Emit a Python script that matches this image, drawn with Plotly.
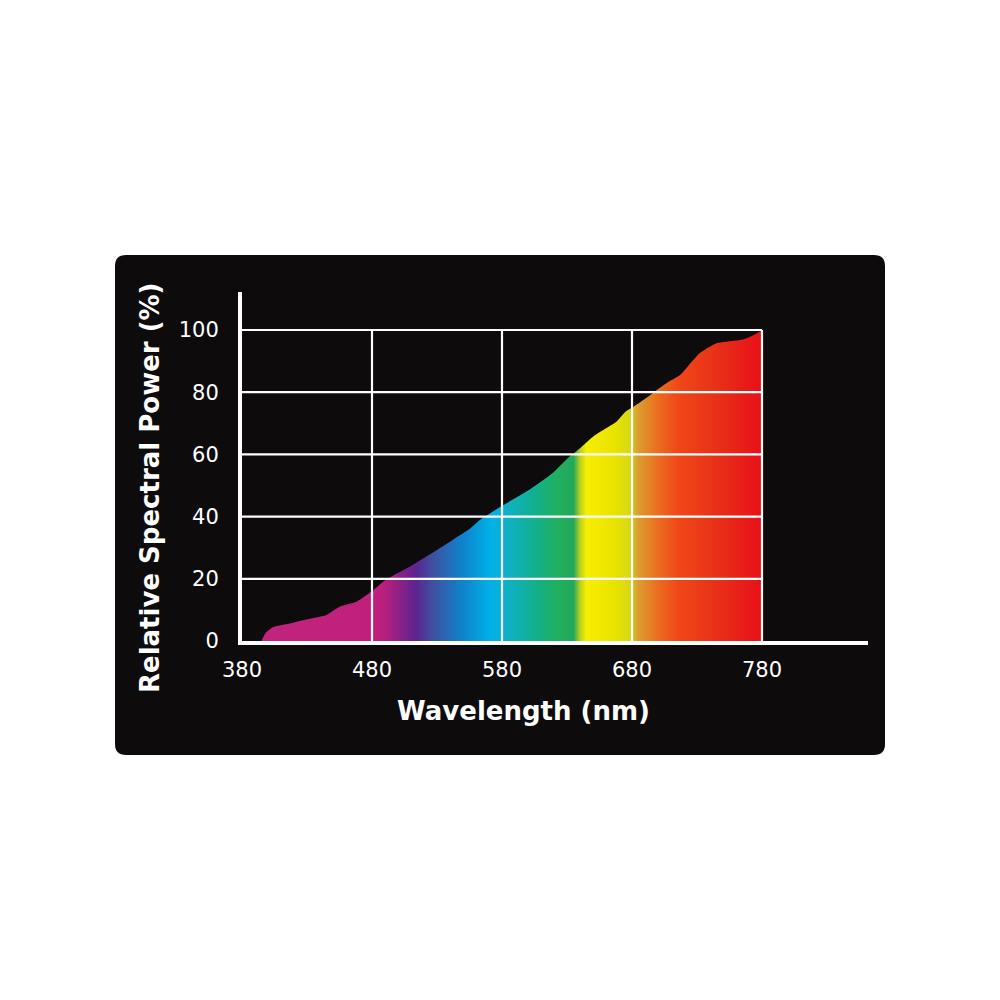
import plotly.graph_objects as go

# ---- data ----
wavelength = [395, 398, 404, 415, 427, 445, 455, 468, 478, 491, 509, 517, 530, 542,
              555, 563, 581, 601, 619, 632, 640, 650, 660, 668, 675, 681, 696, 707,
              717, 725, 732, 745, 760, 768, 776, 780]
power = [0, 2.5, 4.5, 5.5, 6.7, 8.4, 11, 12.6, 15.4, 19.8, 23.9, 26, 29.3, 32.5,
         36.0, 38.9, 43.7, 48.6, 54, 59.3, 62, 65.7, 68.4, 70.5, 73.7, 75.3, 79.7, 83,
         85.5, 89.3, 92.5, 95.7, 96.6, 97.3, 98.9, 100]

x_ticks = [380, 480, 580, 680, 780]
y_ticks = [0, 20, 40, 60, 80, 100]

spectrum_nm = [395, 485, 494, 514, 527, 548, 571, 586, 604, 622, 635, 640, 645,
               668, 678, 684, 699, 715, 745, 780]
spectrum_col = ["#c2237c", "#c0207c", "#a82080", "#5a2590", "#4050a0", "#1080c8",
                "#00b0e8", "#10b0c0", "#10b090", "#20b060", "#22a85a", "#b8d020",
                "#f8ee00", "#e8e200", "#d8d818", "#dca030", "#ea7020", "#f04818",
                "#e83018", "#e81018"]

# ---- layout geometry (screen pixels; page body has an 8px margin) ----
OFF = 8
W, H = 1000, 1000
L, R, T, B = 242, 868, 292, 641
X0, X1 = 380, 380 + (R - L) / 1.3
Y0, Y1 = 0, (B - T) / 3.11

def px(x):
    return (x - L) / (R - L)

def py(y):
    return (B - y) / (B - T)

s0, s1 = spectrum_nm[0], spectrum_nm[-1]
colorscale = [[(n - s0) / (s1 - s0), c] for n, c in zip(spectrum_nm, spectrum_col)]

fig = go.Figure()
fig.add_trace(go.Scatter(
    x=wavelength, y=power, mode="lines",
    line=dict(width=0, color="rgba(0,0,0,0)", shape="spline", smoothing=0.6),
    fill="tozeroy",
    fillgradient=dict(type="horizontal", colorscale=colorscale, start=s0, stop=s1),
    hoverinfo="skip", showlegend=False,
))

shapes = []
# rounded black panel
bx0, by0, bx1, by1, r = 115, 255, 885, 755, 11
path = (f"M {px(bx0 + r)} {py(by0)} L {px(bx1 - r)} {py(by0)} "
        f"Q {px(bx1)} {py(by0)} {px(bx1)} {py(by0 + r)} "
        f"L {px(bx1)} {py(by1 - r)} Q {px(bx1)} {py(by1)} {px(bx1 - r)} {py(by1)} "
        f"L {px(bx0 + r)} {py(by1)} Q {px(bx0)} {py(by1)} {px(bx0)} {py(by1 - r)} "
        f"L {px(bx0)} {py(by0 + r)} Q {px(bx0)} {py(by0)} {px(bx0 + r)} {py(by0)} Z")
shapes.append(dict(type="path", path=path, xref="paper", yref="paper",
                   fillcolor="#0e0b0c", line=dict(width=0), layer="below"))
# grid
for xv in x_ticks[1:]:
    shapes.append(dict(type="line", xref="x", yref="y", x0=xv, x1=xv, y0=0, y1=100,
                       line=dict(color="white", width=2.2), layer="above"))
for yv in y_ticks[1:]:
    shapes.append(dict(type="line", xref="x", yref="y", x0=380, x1=780, y0=yv, y1=yv,
                       line=dict(color="white", width=2.2), layer="above"))

font_family = "DejaVu Sans"
fig.update_layout(
    width=W, height=H,
    margin=dict(l=L - OFF, r=W - R + OFF, t=T - OFF, b=H - B + OFF, pad=0),
    paper_bgcolor="white", plot_bgcolor="rgba(0,0,0,0)",
    shapes=shapes,
    xaxis=dict(range=[X0, X1], tickvals=x_ticks, ticktext=[str(v) for v in x_ticks],
               showgrid=False, zeroline=False, showline=True, linecolor="white",
               linewidth=4, ticks="outside", ticklen=7, tickcolor="rgba(0,0,0,0)",
               tickfont=dict(family=font_family, size=21, color="white")),
    yaxis=dict(range=[Y0, Y1], tickvals=y_ticks, ticktext=[str(v) for v in y_ticks],
               showgrid=False, zeroline=False, showline=True, linecolor="white",
               linewidth=4, ticks="outside", ticklen=15, tickcolor="rgba(0,0,0,0)",
               tickfont=dict(family=font_family, size=21, color="white")),
    annotations=[
        dict(text="<b>Wavelength (nm)</b>", xref="paper", yref="paper",
             x=px(523), y=py(711), showarrow=False, xanchor="center", yanchor="middle",
             font=dict(family=font_family, size=26, color="white")),
        dict(text="<b>Relative Spectral Power (%)</b>", xref="paper", yref="paper",
             x=px(150), y=py(488), showarrow=False, xanchor="center", yanchor="middle",
             textangle=-90, font=dict(family=font_family, size=26, color="white")),
    ],
)

fig.write_html("out.html")
